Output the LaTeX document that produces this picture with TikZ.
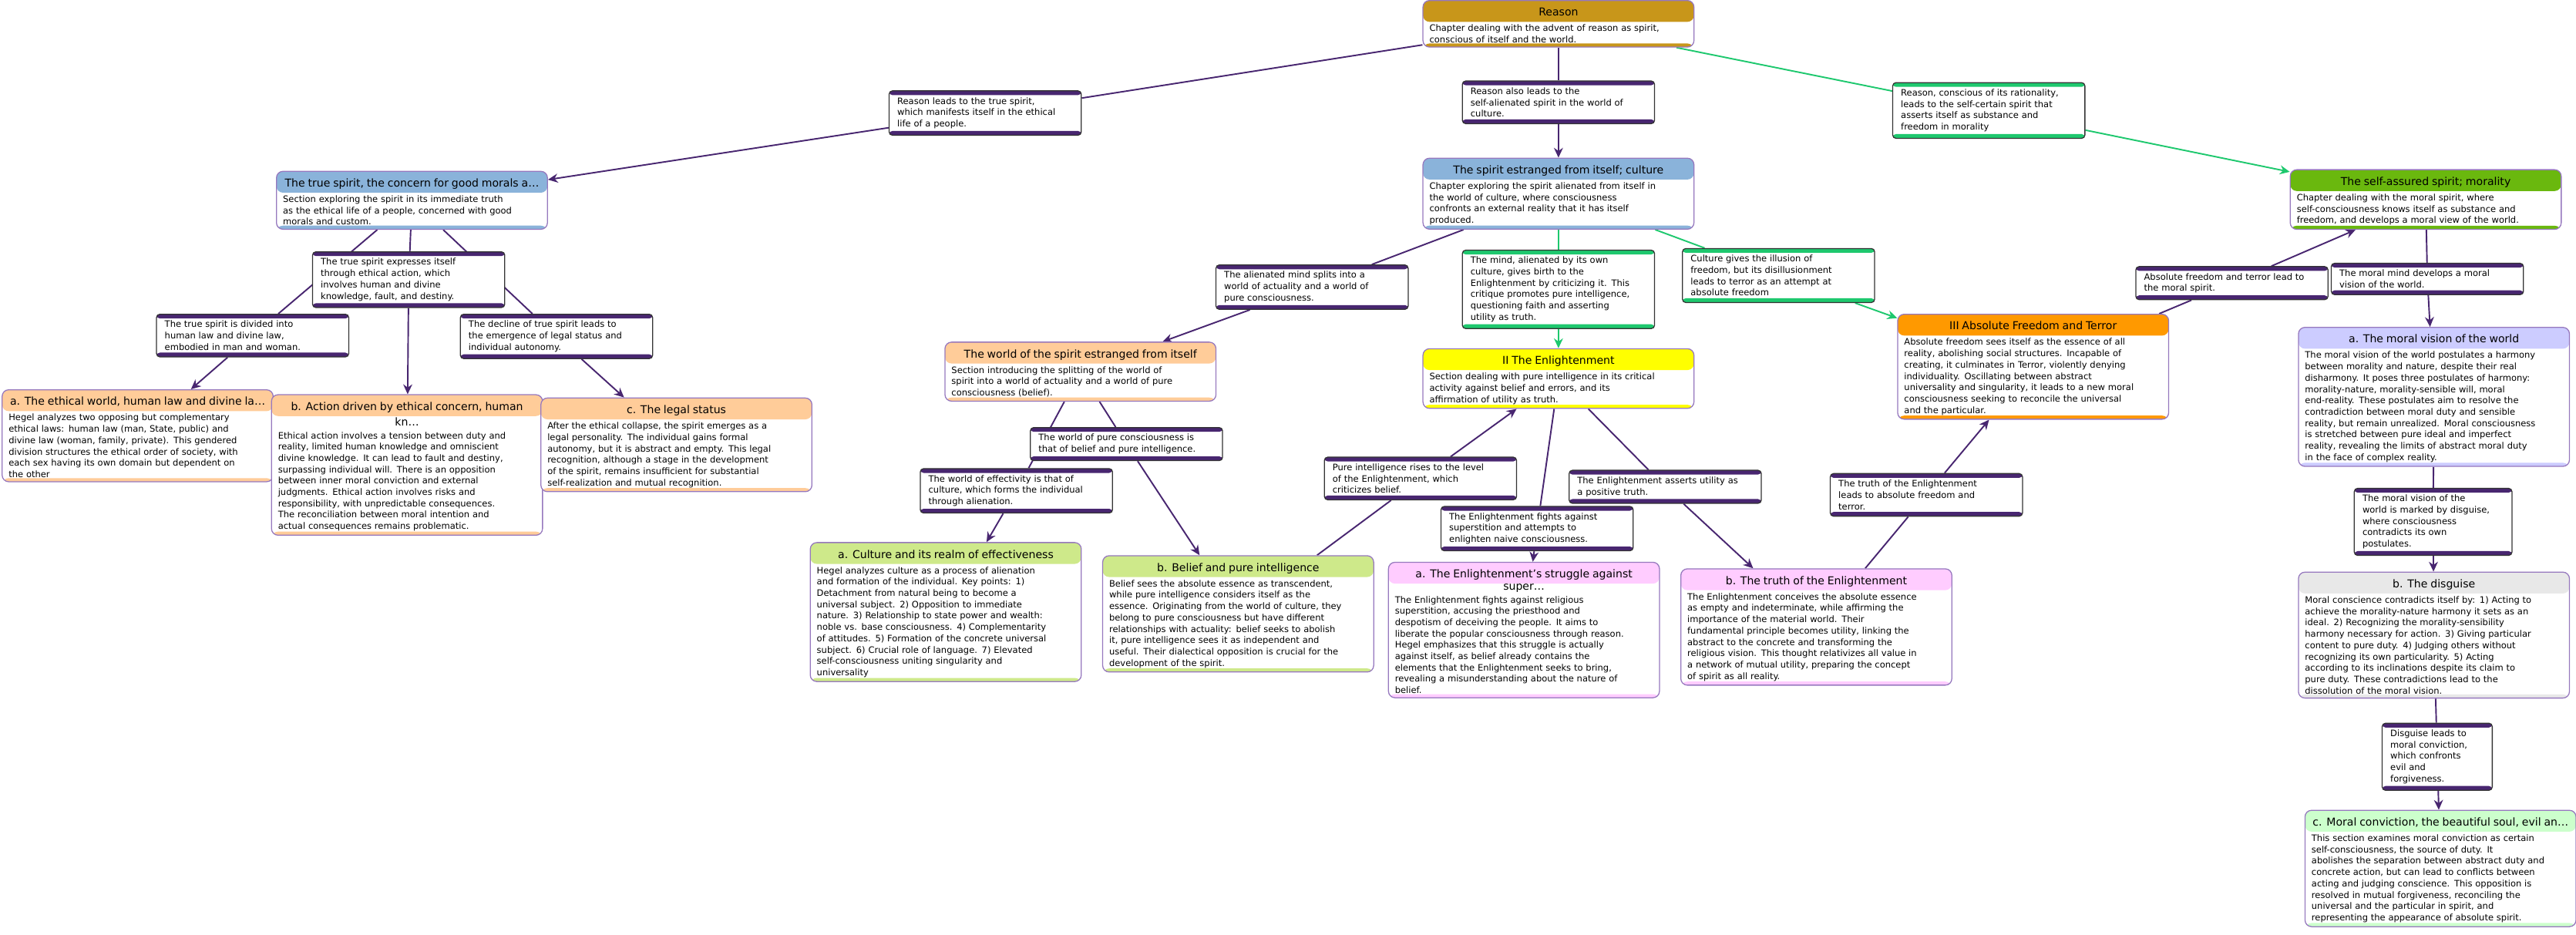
\documentclass[tikz,border=0pt]{standalone}
\usepackage{fontspec}
\setmainfont{DejaVu Sans}
\usetikzlibrary{arrows.meta,backgrounds}

\definecolor{edgec}{RGB}{72,38,112}
\definecolor{greenc}{RGB}{30,200,110}
\definecolor{boxline}{RGB}{150,120,190}
\definecolor{hgold}{RGB}{200,150,26}
\definecolor{hblue}{RGB}{138,179,218}
\definecolor{hgreen}{RGB}{106,184,14}
\definecolor{hpeach}{RGB}{255,204,153}
\definecolor{hyellow}{RGB}{255,255,0}
\definecolor{horange}{RGB}{255,153,0}
\definecolor{hlav}{RGB}{204,204,255}
\definecolor{hlime}{RGB}{206,233,138}
\definecolor{hpink}{RGB}{255,204,255}
\definecolor{hgrey}{RGB}{232,232,232}
\definecolor{hmint}{RGB}{204,255,204}

\newcommand{\sectitle}[1]{{\centering\fontsize{6.6}{7.5}\selectfont\rule[-3.5pt]{0pt}{10.5pt}#1\par}\vspace{0.8pt}}

\tikzset{
  sec/.style={draw=boxline, line width=.6pt, rounded corners=4pt, fill=white,
    anchor=north west, text width=157pt, inner xsep=4pt, inner ysep=2.5pt, align=left,
    font=\fontsize{5.4}{6.9}\selectfont,
    path picture={
      \fill[#1] (path picture bounding box.north west) rectangle ([yshift=-13pt]path picture bounding box.north east);
      \fill[#1] (path picture bounding box.south west) rectangle ([yshift=2.2pt]path picture bounding box.south east);}},
  lbl/.style={draw=black!80, line width=.6pt, rounded corners=2pt, fill=white,
    anchor=north west, text width=#1, inner xsep=5pt, inner ysep=4pt, align=left,
    font=\fontsize{5.4}{6.9}\selectfont},
  lbl/.default=107pt,
  band/.style={path picture={
      \fill[#1] (path picture bounding box.north west) rectangle ([yshift=-2.6pt]path picture bounding box.north east);
      \fill[#1] (path picture bounding box.south west) rectangle ([yshift=2.6pt]path picture bounding box.south east);}},
  link/.style={draw=edgec, line width=.9pt},
  linkto/.style={link, -{Stealth[length=6pt,width=5.5pt]}},
  glink/.style={draw=greenc, line width=.9pt},
  glinkto/.style={glink, -{Stealth[length=6pt,width=5.5pt]}}
}

\begin{document}
\begin{tikzpicture}[x=1pt, y=-1pt]
\useasboundingbox (0,0) rectangle (1568.3,569.2);

% Chapters
\node[sec=hgold] (reason) at (866,0) {\sectitle{Reason}Chapter dealing with the advent of reason as spirit,\\conscious of itself and the world.};
\node[sec=hblue] (truespirit) at (168,104) {\sectitle{The true spirit, the concern for good morals a…}Section exploring the spirit in its immediate truth\\as the ethical life of a people, concerned with good\\morals and custom.};
\node[sec=hblue] (estranged) at (866,96) {\sectitle{The spirit estranged from itself; culture}Chapter exploring the spirit alienated from itself in\\the world of culture, where consciousness\\confronts an external reality that it has itself\\produced.};
\node[sec=hgreen] (selfassured) at (1394,103) {\sectitle{The self-assured spirit; morality}Chapter dealing with the moral spirit, where\\self-consciousness knows itself as substance and\\freedom, and develops a moral view of the world.};

% Sections
\node[sec=hpeach] (ethicalworld) at (1,237) {\sectitle{a. The ethical world, human law and divine la…}Hegel analyzes two opposing but complementary\\ethical laws: human law (man, State, public) and\\divine law (woman, family, private). This gendered\\division structures the ethical order of society, with\\each sex having its own domain but dependent on\\the other};
\node[sec=hpeach] (ethicalaction) at (165,240) {\sectitle{b. Action driven by ethical concern, human kn…}Ethical action involves a tension between duty and\\reality, limited human knowledge and omniscient\\divine knowledge. It can lead to fault and destiny,\\surpassing individual will. There is an opposition\\between inner moral conviction and external\\judgments. Ethical action involves risks and\\responsibility, with unpredictable consequences.\\The reconciliation between moral intention and\\actual consequences remains problematic.};
\node[sec=hpeach] (legalstatus) at (329,242) {\sectitle{c. The legal status}After the ethical collapse, the spirit emerges as a\\legal personality. The individual gains formal\\autonomy, but it is abstract and empty. This legal\\recognition, although a stage in the development\\of the spirit, remains insufficient for substantial\\self-realization and mutual recognition.};
\node[sec=hpeach] (worldestranged) at (575,208) {\sectitle{The world of the spirit estranged from itself}Section introducing the splitting of the world of\\spirit into a world of actuality and a world of pure\\consciousness (belief).};
\node[sec=hyellow] (enlightenment) at (866,212) {\sectitle{II The Enlightenment}Section dealing with pure intelligence in its critical\\activity against belief and errors, and its\\affirmation of utility as truth.};
\node[sec=horange] (absfreedom) at (1155,191) {\sectitle{III Absolute Freedom and Terror}Absolute freedom sees itself as the essence of all\\reality, abolishing social structures. Incapable of\\creating, it culminates in Terror, violently denying\\individuality. Oscillating between abstract\\universality and singularity, it leads to a new moral\\consciousness seeking to reconcile the universal\\and the particular.};
\node[sec=hlav] (moralvision) at (1399,199) {\sectitle{a. The moral vision of the world}The moral vision of the world postulates a harmony\\between morality and nature, despite their real\\disharmony. It poses three postulates of harmony:\\morality-nature, morality-sensible will, moral\\end-reality. These postulates aim to resolve the\\contradiction between moral duty and sensible\\reality, but remain unrealized. Moral consciousness\\is stretched between pure ideal and imperfect\\reality, revealing the limits of abstract moral duty\\in the face of complex reality.};
\node[sec=hlime] (culturerealm) at (493,330) {\sectitle{a. Culture and its realm of effectiveness}Hegel analyzes culture as a process of alienation\\and formation of the individual. Key points: 1)\\Detachment from natural being to become a\\universal subject. 2) Opposition to immediate\\nature. 3) Relationship to state power and wealth:\\noble vs. base consciousness. 4) Complementarity\\of attitudes. 5) Formation of the concrete universal\\subject. 6) Crucial role of language. 7) Elevated\\self-consciousness uniting singularity and\\universality};
\node[sec=hlime] (belief) at (671,338) {\sectitle{b. Belief and pure intelligence}Belief sees the absolute essence as transcendent,\\while pure intelligence considers itself as the\\essence. Originating from the world of culture, they\\belong to pure consciousness but have different\\relationships with actuality: belief seeks to abolish\\it, pure intelligence sees it as independent and\\useful. Their dialectical opposition is crucial for the\\development of the spirit.};
\node[sec=hpink] (struggle) at (845,342) {\sectitle{a. The Enlightenment's struggle against super…}The Enlightenment fights against religious\\superstition, accusing the priesthood and\\despotism of deceiving the people. It aims to\\liberate the popular consciousness through reason.\\Hegel emphasizes that this struggle is actually\\against itself, as belief already contains the\\elements that the Enlightenment seeks to bring,\\revealing a misunderstanding about the nature of\\belief.};
\node[sec=hpink] (truth) at (1023,346) {\sectitle{b. The truth of the Enlightenment}The Enlightenment conceives the absolute essence\\as empty and indeterminate, while affirming the\\importance of the material world. Their\\fundamental principle becomes utility, linking the\\abstract to the concrete and transforming the\\religious vision. This thought relativizes all value in\\a network of mutual utility, preparing the concept\\of spirit as all reality.};
\node[sec=hgrey] (disguise) at (1399,348) {\sectitle{b. The disguise}Moral conscience contradicts itself by: 1) Acting to\\achieve the morality-nature harmony it sets as an\\ideal. 2) Recognizing the morality-sensibility\\harmony necessary for action. 3) Giving particular\\content to pure duty. 4) Judging others without\\recognizing its own particularity. 5) Acting\\according to its inclinations despite its claim to\\pure duty. These contradictions lead to the\\dissolution of the moral vision.};
\node[sec=hmint] (conviction) at (1403,493) {\sectitle{c. Moral conviction, the beautiful soul, evil an…}This section examines moral conviction as certain\\self-consciousness, the source of duty. It\\abolishes the separation between abstract duty and\\concrete action, but can lead to conflicts between\\acting and judging conscience. This opposition is\\resolved in mutual forgiveness, reconciling the\\universal and the particular in spirit, and\\representing the appearance of absolute spirit.};

% Transition labels
\node[lbl, band=edgec] (toethical) at (541,55) {Reason leads to the true spirit,\\which manifests itself in the ethical\\life of a people.};
\node[lbl, band=edgec] (toculture) at (890,49) {Reason also leads to the\\self-alienated spirit in the world of\\culture.};
\node[lbl, band=greenc] (tomorality) at (1152,50) {Reason, conscious of its rationality,\\leads to the self-certain spirit that\\asserts itself as substance and\\freedom in morality};
\node[lbl, band=edgec] (expresses) at (190,153) {The true spirit expresses itself\\through ethical action, which\\involves human and divine\\knowledge, fault, and destiny.};
\node[lbl, band=edgec] (divided) at (95,191) {The true spirit is divided into\\human law and divine law,\\embodied in man and woman.};
\node[lbl, band=edgec] (decline) at (280,191) {The decline of true spirit leads to\\the emergence of legal status and\\individual autonomy.};
\node[lbl, band=edgec] (splits) at (740,161) {The alienated mind splits into a\\world of actuality and a world of\\pure consciousness.};
\node[lbl, band=greenc] (critique) at (890,152) {The mind, alienated by its own\\culture, gives birth to the\\Enlightenment by criticizing it. This\\critique promotes pure intelligence,\\questioning faith and asserting\\utility as truth.};
\node[lbl, band=greenc] (illusion) at (1024,151) {Culture gives the illusion of\\freedom, but its disillusionment\\leads to terror as an attempt at\\absolute freedom};
\node[lbl, band=edgec] (terrormoral) at (1300,162) {Absolute freedom and terror lead to\\the moral spirit.};
\node[lbl, band=edgec] (moralmind) at (1419,160) {The moral mind develops a moral\\vision of the world.};
\node[lbl, band=edgec] (pureworld) at (627,260) {The world of pure consciousness is\\that of belief and pure intelligence.};
\node[lbl, band=edgec] (effectivity) at (560,285) {The world of effectivity is that of\\culture, which forms the individual\\through alienation.};
\node[lbl, band=edgec] (rises) at (806,278) {Pure intelligence rises to the level\\of the Enlightenment, which\\criticizes belief.};
\node[lbl, band=edgec] (fights) at (877,308) {The Enlightenment fights against\\superstition and attempts to\\enlighten naive consciousness.};
\node[lbl, band=edgec] (utility) at (955,286) {The Enlightenment asserts utility as\\a positive truth.};
\node[lbl, band=edgec] (toterror) at (1114,288) {The truth of the Enlightenment\\leads to absolute freedom and\\terror.};
\node[lbl=86pt, band=edgec] (marked) at (1433,297) {The moral vision of the\\world is marked by disguise,\\where consciousness\\contradicts its own\\postulates.};
\node[lbl=57pt, band=edgec] (leadsto) at (1450,440) {Disguise leads to\\moral conviction,\\which confronts\\evil and\\forgiveness.};

% Connectors
\begin{scope}[on background layer]
\draw[link] (reason) -- (toethical);
\draw[linkto] (toethical) -- (truespirit);
\draw[link] (reason) -- (toculture);
\draw[linkto] (toculture) -- (estranged);
\draw[glink] (reason) -- (tomorality);
\draw[glinkto] (tomorality) -- (selfassured);
\draw[link] (truespirit) -- (expresses);
\draw[linkto] (expresses) -- (ethicalaction);
\draw[link] (truespirit) -- (divided);
\draw[linkto] (divided) -- (ethicalworld);
\draw[link] (truespirit) -- (decline);
\draw[linkto] (decline) -- (legalstatus);
\draw[link] (estranged) -- (splits);
\draw[linkto] (splits) -- (worldestranged);
\draw[glink] (estranged) -- (critique);
\draw[glinkto] (critique) -- (enlightenment);
\draw[glink] (estranged) -- (illusion);
\draw[glinkto] (illusion) -- (absfreedom);
\draw[link] (worldestranged) -- (pureworld);
\draw[linkto] (pureworld) -- (belief);
\draw[link] (worldestranged) -- (effectivity);
\draw[linkto] (effectivity) -- (culturerealm);
\draw[link] (belief) -- (rises);
\draw[linkto] (rises) -- (enlightenment);
\draw[link] (enlightenment) -- (fights);
\draw[linkto] (fights) -- (struggle);
\draw[link] (enlightenment) -- (utility);
\draw[linkto] (utility) -- (truth);
\draw[link] (truth) -- (toterror);
\draw[linkto] (toterror) -- (absfreedom);
\draw[link] (absfreedom) -- (terrormoral);
\draw[linkto] (terrormoral) -- (selfassured);
\draw[link] (selfassured) -- (moralmind);
\draw[linkto] (moralmind) -- (moralvision);
\draw[link] (moralvision) -- (marked);
\draw[linkto] (marked) -- (disguise);
\draw[link] (disguise) -- (leadsto);
\draw[linkto] (leadsto) -- (conviction);
\end{scope}
\end{tikzpicture}
\end{document}
